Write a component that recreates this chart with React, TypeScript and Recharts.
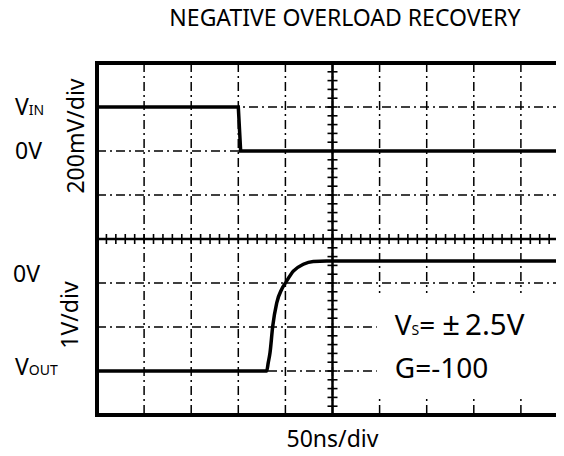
import React from 'react';
import {
  ComposedChart,
  Line,
  XAxis,
  YAxis,
  CartesianGrid,
  ReferenceLine,
  ReferenceArea,
  Scatter,
} from 'recharts';

const FONT = '"Noto Sans", sans-serif';

// ---- texts ----
const TITLE = 'NEGATIVE OVERLOAD RECOVERY';
const X_LABEL = '50ns/div';
const VIN_SCALE_LABEL = '200mV/div';
const VOUT_SCALE_LABEL = '1V/div';
const NOTE_SUPPLY = ['V', 'S', '=', '±', '2.5V'];
const NOTE_GAIN = 'G=-100';

// ---- graticule (50 ns/div, 200 mV/div on input channel) ----
const timeGridTicksNs = [0, 50, 100, 150, 200, 250, 300, 350, 400, 450, 500];
const vinGridTicksMv = [-1200, -1000, -800, -600, -400, -200, 0, 200, 400];
const timeMinorTicksNs = [
  0, 10, 20, 30, 40, 50, 60, 70, 80, 90, 100, 110, 120, 130, 140, 150, 160, 170, 180, 190, 200,
  210, 220, 230, 240, 250, 260, 270, 280, 290, 300, 310, 320, 330, 340, 350, 360, 370, 380, 390,
  400, 410, 420, 430, 440, 450, 460, 470, 480, 490, 500,
];
const vinMinorTicksMv = [
  -1200, -1160, -1120, -1080, -1040, -1000, -960, -920, -880, -840, -800, -760, -720, -680, -640,
  -600, -560, -520, -480, -440, -400, -360, -320, -280, -240, -200, -160, -120, -80, -40, 0, 40,
  80, 120, 160, 200, 240, 280, 320, 360, 400,
];
const CENTER_T = 250;
const CENTER_MV = -400;
const TIME_DOMAIN = [0, 500];
const VIN_DOMAIN = [-1200, 400];
const VOUT_DOMAIN = [-3.5, 4.5];

// ---- input trace (mV) ----
const vinTimeNs = [0, 150, 152.5, 500];
const vinMv = [200, 200, 0, 0];

// ---- output trace (V) ----
const voutTimeNs = [0, 180.1, 181.8, 183.7, 186.5, 190.8, 196.1, 200.6, 208.4, 219.0, 229.6, 243.8, 500];
const voutV = [-2.5, -2.5, -2.31, -2.08, -1.49, -0.95, -0.64, -0.48, -0.23, -0.075, -0.01, 0, 0];

// ---- level markers ----
const VIN_HIGH_MV = 200;
const VIN_ZERO_MV = 0;
const VOUT_ZERO_V = 0;
const VOUT_LOW_V = -2.5;

// annotation box (data units)
const NOTE_BOX_T = [297, 489];
const NOTE_BOX_V = [-0.73, -3.09];

const vinData = vinTimeNs.map((t, i) => ({ t, v: vinMv[i] }));
const voutData = voutTimeNs.map((t, i) => ({ t, v: voutV[i] }));
const hTickData = timeMinorTicksNs.map((t) => ({ t, v: CENTER_MV }));
const vTickData = vinMinorTicksMv.map((v) => ({ t: CENTER_T, v }));

const VMark = (p: any) => (
  <line x1={p.cx} x2={p.cx} y1={p.cy - 5} y2={p.cy + 5} stroke="#000" strokeWidth={1.6} />
);
const HMark = (p: any) => (
  <line x1={p.cx - 5} x2={p.cx + 5} y1={p.cy} y2={p.cy} stroke="#000" strokeWidth={1.6} />
);
const NoTick = () => <g />;

const levelLabel = (main: string, sub: string, dx: number, dy: number) => (props: any) => {
  const vb = props.viewBox || {};
  return (
    <text x={vb.x + dx} y={vb.y + dy} fontFamily={FONT} fontSize={23} fill="#000">
      {main}
      {sub ? <tspan fontSize={14}>{sub}</tspan> : null}
    </text>
  );
};

const scaleLabel = (text: string, dx: number, dy: number) => (props: any) => {
  const vb = props.viewBox || {};
  const x = vb.x + dx;
  const y = vb.y + dy;
  return (
    <text
      x={x}
      y={y}
      transform={`rotate(-90 ${x} ${y})`}
      textAnchor="middle"
      fontFamily={FONT}
      fontSize={23}
      fill="#000"
    >
      {text}
    </text>
  );
};

const noteLabel = (props: any) => {
  const vb = props.viewBox || {};
  const x = vb.x + 18;
  return (
    <g>
      <text x={x} y={vb.y + 42} fontFamily={FONT} fontSize={28} fill="#000">
        {NOTE_SUPPLY[0]}
        <tspan fontSize={14}>{NOTE_SUPPLY[1]}</tspan>
        <tspan>{NOTE_SUPPLY[2]}</tspan>
        <tspan dx={7} fontSize={31}>{NOTE_SUPPLY[3]}</tspan>
        <tspan dx={5} fontSize={29.5}>{NOTE_SUPPLY[4]}</tspan>
      </text>
      <text x={x} y={vb.y + 85} fontFamily={FONT} fontSize={28} fill="#000">
        {NOTE_GAIN}
      </text>
    </g>
  );
};

export default function App() {
  return (
    <div style={{ position: 'relative', width: 556, height: 448 }}>
      <div
        style={{
          position: 'absolute',
          left: 137,
          top: -6,
          width: 400,
          textAlign: 'center',
          fontFamily: FONT,
          fontSize: 23,
          lineHeight: '31px',
          color: '#000',
          whiteSpace: 'nowrap',
          zIndex: 2,
        }}
      >
        {TITLE}
      </div>
      <div style={{ position: 'absolute', left: 0, top: 0, width: 556, height: 448, overflow: 'hidden' }}>
        <ComposedChart
          width={600}
          height={448}
          margin={{ top: 55, right: 40, bottom: 0, left: 0 }}
        >
          <XAxis
            dataKey="t"
            type="number"
            domain={TIME_DOMAIN}
            ticks={timeGridTicksNs}
            interval={0}
            allowDataOverflow
            tick={NoTick}
            tickLine={false}
            axisLine={false}
            height={41}
            label={{
              value: X_LABEL,
              position: 'insideBottom',
              offset: 9,
              fontFamily: FONT,
              fontSize: 23,
              fill: '#000',
            }}
          />
          <YAxis
            dataKey="v"
            type="number"
            domain={VIN_DOMAIN}
            ticks={vinGridTicksMv}
            interval={0}
            allowDataOverflow
            tick={NoTick}
            tickLine={false}
            axisLine={false}
            width={89}
          />
          <YAxis
            yAxisId="out"
            dataKey="v"
            type="number"
            domain={VOUT_DOMAIN}
            allowDataOverflow
            hide
          />
          <CartesianGrid stroke="#000" strokeWidth={1.5} strokeDasharray="9 4 2 4" />
          <ReferenceArea
            yAxisId="out"
            x1={NOTE_BOX_T[0]}
            x2={NOTE_BOX_T[1]}
            y1={NOTE_BOX_V[0]}
            y2={NOTE_BOX_V[1]}
            fill="#fff"
            fillOpacity={1}
            stroke="none"
            ifOverflow="visible"
            label={noteLabel}
          />
          <ReferenceLine x={CENTER_T} stroke="#000" strokeWidth={2.5} />
          <ReferenceLine y={CENTER_MV} stroke="#000" strokeWidth={2.5} />
          <Scatter data={hTickData} dataKey="v" shape={VMark} isAnimationActive={false} />
          <Scatter data={vTickData} dataKey="v" shape={HMark} isAnimationActive={false} />
          <ReferenceLine y={VIN_HIGH_MV} stroke="none" label={levelLabel('V', 'IN', -82, 8)} />
          <ReferenceLine y={VIN_ZERO_MV} stroke="none" label={levelLabel('0V', '', -82, 8)} />
          <ReferenceLine
            y={VIN_ZERO_MV}
            stroke="none"
            label={scaleLabel(VIN_SCALE_LABEL, -13, -15)}
          />
          <ReferenceLine
            yAxisId="out"
            y={VOUT_ZERO_V}
            stroke="none"
            label={levelLabel('0V', '', -84, 21)}
          />
          <ReferenceLine
            yAxisId="out"
            y={VOUT_ZERO_V}
            stroke="none"
            label={scaleLabel(VOUT_SCALE_LABEL, -19, 54)}
          />
          <ReferenceLine
            yAxisId="out"
            y={VOUT_LOW_V}
            stroke="none"
            label={levelLabel('V', 'OUT', -82, 4)}
          />
          <Line
            data={vinData}
            dataKey="v"
            type="linear"
            stroke="#000"
            strokeWidth={3.5}
            dot={false}
            isAnimationActive={false}
          />
          <Line
            yAxisId="out"
            data={voutData}
            dataKey="v"
            type="monotone"
            stroke="#000"
            strokeWidth={3.5}
            dot={false}
            isAnimationActive={false}
          />
          <ReferenceArea
            x1={TIME_DOMAIN[0]}
            x2={TIME_DOMAIN[1]}
            y1={VIN_DOMAIN[0]}
            y2={VIN_DOMAIN[1]}
            fill="none"
            stroke="#000"
            strokeWidth={4}
            ifOverflow="visible"
          />
        </ComposedChart>
      </div>
    </div>
  );
}
